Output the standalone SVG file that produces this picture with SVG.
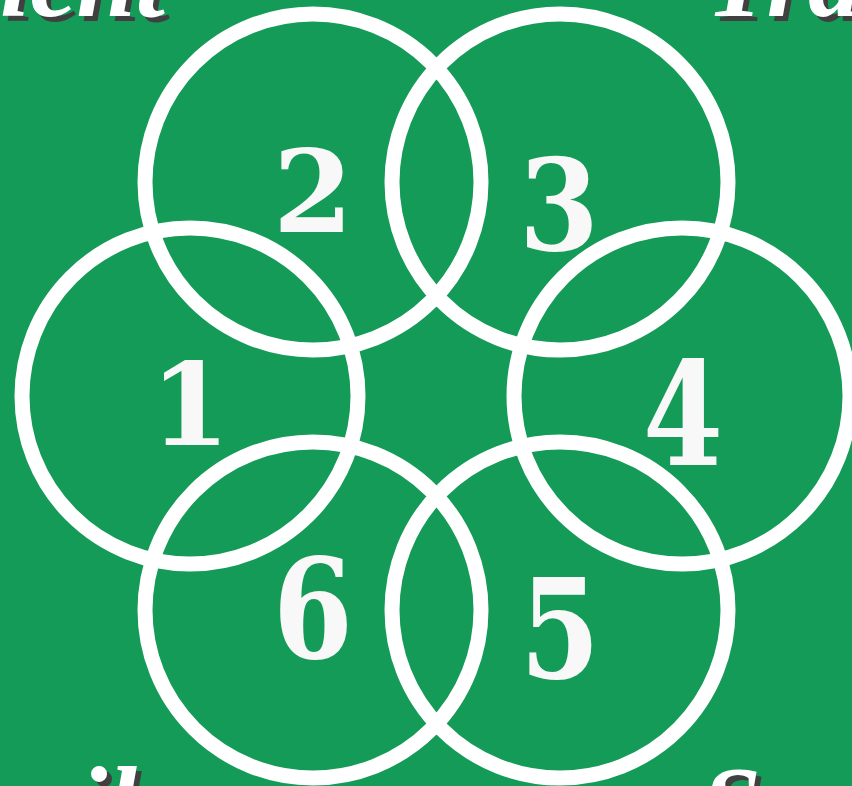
<svg xmlns="http://www.w3.org/2000/svg" width="852" height="786" viewBox="0 0 852 786">
<style>
.ring{fill:none;stroke:#ffffff;stroke-width:15}
.num{font-family:"DejaVu Serif",serif;font-weight:bold;font-size:115px;fill:#f8f8f8;text-anchor:middle}
.lbl{font-family:"Liberation Serif",serif;font-weight:bold;font-style:italic;font-size:106px;fill:#ffffff}
.sh{fill:#404040}
</style>
<rect width="852" height="786" fill="#139b57"/>
<g id="labels">
<text class="lbl sh" x="170" y="21" text-anchor="end">ient</text>
<text class="lbl" x="165" y="16" text-anchor="end">ient</text>
<text class="lbl sh" x="711" y="21">Tra</text>
<text class="lbl" x="706" y="16">Tra</text>
<text class="lbl sh" x="142" y="845" text-anchor="end">mail</text>
<text class="lbl" x="137" y="840" text-anchor="end">mail</text>
<text class="lbl sh" x="707" y="845">Seo</text>
<text class="lbl" x="702" y="840">Seo</text>
</g>
<g id="n1"><circle class="ring" cx="190" cy="396" r="168"/><text class="num" x="190" y="445">1</text></g>
<g id="n2"><circle class="ring" cx="313" cy="182" r="168"/><text class="num" x="313" y="232">2</text></g>
<g id="n3"><circle class="ring" cx="560" cy="182" r="168"/><text class="num" transform="translate(559,250) scale(1,1.1)">3</text></g>
<g id="n4"><circle class="ring" cx="682" cy="396" r="168"/><text class="num" transform="translate(683,465) scale(1,1.26)">4</text></g>
<g id="n5"><circle class="ring" cx="560" cy="610" r="168"/><text class="num" transform="translate(560,678) scale(1,1.2)">5</text></g>
<g id="n6"><circle class="ring" cx="313" cy="610" r="168"/><text class="num" transform="translate(313,658) scale(1,1.2)">6</text></g>
</svg>
